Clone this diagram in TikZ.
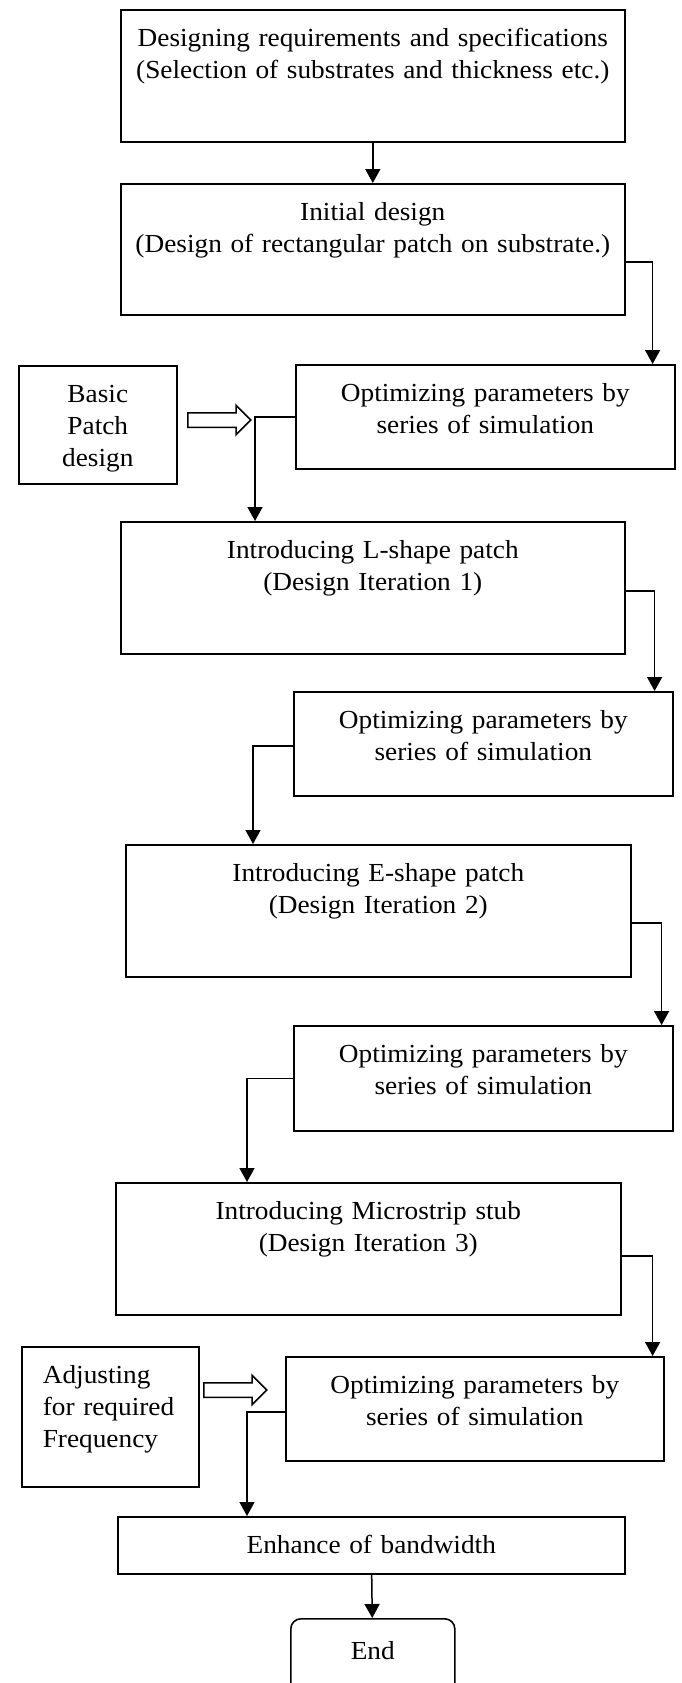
\documentclass[tikz,border=0pt]{standalone}
\usepackage{fontspec}
\setmainfont[FakeStretch=1.05]{Liberation Serif}
\usetikzlibrary{arrows.meta,positioning,shapes.arrows}
\tikzset{
  box/.style 2 args={draw, line width=1.6pt, inner sep=0pt, align=center,
              text width=#1, text height=37pt, text depth=#2,
              anchor=north west},
  flow/.style={-{Triangle[length=14pt, width=15pt]}, line width=1.5pt},
  hollow/.style={single arrow, draw, line width=1.5pt, inner xsep=0pt,
              inner ysep=6.5pt, minimum height=63pt,
              single arrow head extend=7.5pt, anchor=west},
}

\begin{document}
\begin{tikzpicture}[x=1pt, y=-1pt, font=\fontsize{26}{32}\selectfont]
  \useasboundingbox (0,0) rectangle (681,1683);

  \node[box={504pt}{95pt}] (req) at (120,9) {Designing requirements and specifications\\(Selection of substrates and thickness etc.)};
  \node[box={504pt}{94pt}] (init) at (120,183) {Initial design\\(Design of rectangular patch on substrate.)};
  \node[box={379pt}{67pt}] (optA) at (295,364) {Optimizing parameters by\\series of simulation};
  \node[box={158pt}{81pt}] (basic) at (18,365) {Basic\\Patch\\design};
  \node[box={504pt}{95pt}] (lshape) at (120,521) {Introducing L-shape patch\\(Design Iteration 1)};
  \node[box={379pt}{67pt}] (optB) at (293,691) {Optimizing parameters by\\series of simulation};
  \node[box={505pt}{95pt}] (eshape) at (125,844) {Introducing E-shape patch\\(Design Iteration 2)};
  \node[box={379pt}{68pt}] (optC) at (293,1025) {Optimizing parameters by\\series of simulation};
  \node[box={505pt}{95pt}] (stub) at (115,1182) {Introducing Microstrip stub\\(Design Iteration 3)};
  \node[box={378pt}{67pt}] (optD) at (285,1356) {Optimizing parameters by\\series of simulation};
  \node[box={135pt}{103pt}, inner xsep=21pt, align=left] (adjust) at (21,1346) {Adjusting\\for required\\Frequency};
  \node[box={507pt}{20pt}] (bw) at (117,1516) {Enhance of bandwidth};
  \node[box={164pt}{40pt}, text height=41pt, rounded corners=10pt] (finish) at (290,1618) {End};

  \node[hollow] (arrA) at (187,420) {};
  \node[hollow] (arrB) at (203,1390) {};

  \draw[flow] (req) -- (init);
  \draw[flow] ([yshift=-12.5pt]init.east) -| ([xshift=-23pt]optA.north east);
  \draw[flow] (optA.west) -| ([xshift=135pt]lshape.north west);
  \draw[flow] ([yshift=-3pt]lshape.east) -| ([xshift=-19pt]optB.north east);
  \draw[flow] ([yshift=-2pt]optB.west) -| ([xshift=128pt]eshape.north west);
  \draw[flow] ([yshift=-12pt]eshape.east) -| ([xshift=-12pt]optC.north east);
  \draw[flow] (optC.west) -| ([xshift=132pt]stub.north west);
  \draw[flow] ([yshift=-7pt]stub.east) -| ([xshift=-12pt]optD.north east);
  \draw[flow] ([yshift=-3pt]optD.west) -| ([xshift=130pt]bw.north west);
  \draw[flow] (bw) -- (finish);
\end{tikzpicture}
\end{document}
